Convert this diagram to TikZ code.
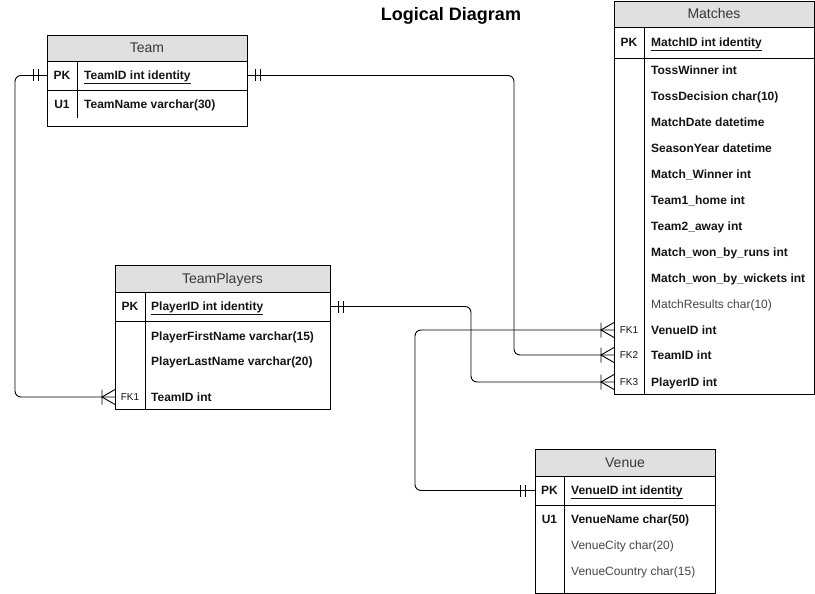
\documentclass[tikz,border=0pt]{standalone}
\usepackage{fontspec}
\setmainfont{Liberation Sans}
\usetikzlibrary{calc}
\definecolor{hdrgray}{RGB}{224,224,224}
\definecolor{txt}{RGB}{20,20,20}
\definecolor{txtlight}{RGB}{70,70,70}
\begin{document}
\begin{tikzpicture}[x=1pt,y=-1pt,
  box/.style={draw, line width=0.9pt, anchor=north west, inner sep=0pt, outer sep=0pt},
  hdr/.style={box, fill=hdrgray, font=\fontsize{14}{16}\selectfont, text=txt!85, text height=10pt, text depth=0pt},
  fld/.style={anchor=west, inner sep=0pt, text height=8.6pt, text depth=0pt, font=\fontsize{12}{14}\selectfont\bfseries, text=txt},
  fldn/.style={fld, font=\fontsize{12}{14}\selectfont, text=txtlight},
  keylbl/.style={inner sep=0pt, text height=8.6pt, text depth=0pt, font=\fontsize{12}{14}\selectfont\bfseries, text=txt},
  fklbl/.style={inner sep=0pt, text height=7.2pt, text depth=0pt, font=\fontsize{10}{12}\selectfont, text=txt},
  divline/.style={line width=0.9pt},
  conn/.style={line width=0.9pt, rounded corners=6pt},
  dbar/.pic={\draw[line width=0.9pt] (-2.5,-6)--(-2.5,6) (2.5,-6)--(2.5,6);},
  crowfoot/.pic={\draw[line width=0.9pt] (0,-7.5)--(0,7.5) (13,-7.5)--(0,0)--(13,7.5);}
]
\useasboundingbox (0,0) rectangle (815,594);

% Title
\node[inner sep=0pt, text height=13pt, text depth=0pt, font=\fontsize{18}{20}\selectfont\bfseries] (title) at (451,14) {Logical Diagram};

% ---------------- Team ----------------
\node[hdr, minimum width=200pt, minimum height=26pt] (teamh) at (47,35) {Team};
\node[box, minimum width=200pt, minimum height=29pt] (teampk) at (47,61) {};
\node[box, minimum width=200pt, minimum height=36pt] (teambody) at (47,90) {};
\draw[divline] (77,61) -- (77,118);
\node[keylbl] (teampkl) at (62,75) {PK};
\node[fld] (teamid) at (84,75) {\underline{TeamID int identity}};
\node[keylbl] (teamu1) at (62,104) {U1};
\node[fld] (teamname) at (84,104) {TeamName varchar(30)};

% ---------------- Matches ----------------
\node[hdr, minimum width=200pt, minimum height=26pt] (mh) at (614,1) {Matches};
\node[box, minimum width=200pt, minimum height=31pt] (mpk) at (614,27) {};
\node[box, minimum width=200pt, minimum height=336pt] (mbody) at (614,58) {};
\draw[divline] (644,27) -- (644,394);
\node[keylbl] (mpkl) at (629,42) {PK};
\node[fld] (mid) at (651,42) {\underline{MatchID int identity}};
\node[fld] (m1) at (651,70) {TossWinner int};
\node[fld] (m2) at (651,96) {TossDecision char(10)};
\node[fld] (m3) at (651,122) {MatchDate datetime};
\node[fld] (m4) at (651,148) {SeasonYear datetime};
\node[fld] (m5) at (651,174) {Match\_Winner int};
\node[fld] (m6) at (651,200) {Team1\_home int};
\node[fld] (m7) at (651,226) {Team2\_away int};
\node[fld] (m8) at (651,252) {Match\_won\_by\_runs int};
\node[fld] (m9) at (651,278) {Match\_won\_by\_wickets int};
\node[fldn] (m10) at (651,304) {MatchResults char(10)};
\node[fld] (mvenue) at (651,330) {VenueID int};
\node[fld] (mteam) at (651,355) {TeamID int};
\node[fld] (mplayer) at (651,382) {PlayerID int};
\node[fklbl] (fk1) at (629,330) {FK1};
\node[fklbl] (fk2) at (629,355) {FK2};
\node[fklbl] (fk3) at (629,382) {FK3};

% ---------------- TeamPlayers ----------------
\node[hdr, minimum width=215pt, minimum height=27pt] (tph) at (115,265) {TeamPlayers};
\node[box, minimum width=215pt, minimum height=29pt] (tppk) at (115,292) {};
\node[box, minimum width=215pt, minimum height=88pt] (tpbody) at (115,321) {};
\draw[divline] (145,292) -- (145,409);
\node[keylbl] (tppkl) at (130,306) {PK};
\node[fld] (tpid) at (151,306) {\underline{PlayerID int identity}};
\node[fld] (tpfirst) at (151,336) {PlayerFirstName varchar(15)};
\node[fld] (tplast) at (151,361) {PlayerLastName varchar(20)};
\node[fld] (tpteamid) at (151,397) {TeamID int};
\node[fklbl] (tpfk1) at (130,397) {FK1};

% ---------------- Venue ----------------
\node[hdr, minimum width=180pt, minimum height=27pt] (vh) at (535,449) {Venue};
\node[box, minimum width=180pt, minimum height=29pt] (vpk) at (535,476) {};
\node[box, minimum width=180pt, minimum height=88pt] (vbody) at (535,505) {};
\draw[divline] (564,476) -- (564,593);
\node[keylbl] (vpkl) at (549.5,490) {PK};
\node[fld] (vid) at (571,490) {\underline{VenueID int identity}};
\node[keylbl] (vu1) at (549.5,519) {U1};
\node[fld] (vname) at (571,519) {VenueName char(50)};
\node[fldn] (vcity) at (571,545) {VenueCity char(20)};
\node[fldn] (vcountry) at (571,571) {VenueCountry char(15)};

% ---------------- Connectors ----------------
\draw[conn] (teampk.west) -- ++(-32,0) |- (tpbody.west |- tpteamid);
\draw[conn] (teampk.east) -- ++(267,0) |- (mbody.west |- mteam);
\draw[conn] (tppk.east) -- ++(141,0) |- (mbody.west |- mplayer);
\draw[conn] (vpk.west) -- ++(-120,0) |- (mbody.west |- mvenue);

% markers
\pic at ($(teampk.west)+(-11.5,0)$) {dbar};
\pic at ($(teampk.east)+(10.5,0)$) {dbar};
\pic at ($(tppk.east)+(10.5,0)$) {dbar};
\pic at ($(vpk.west)+(-12.5,0)$) {dbar};
\pic at ($(tpbody.west |- tpteamid)+(-13,0)$) {crowfoot};
\pic at ($(mbody.west |- mvenue)+(-13,0)$) {crowfoot};
\pic at ($(mbody.west |- mteam)+(-13,0)$) {crowfoot};
\pic at ($(mbody.west |- mplayer)+(-13,0)$) {crowfoot};
\end{tikzpicture}
\end{document}
